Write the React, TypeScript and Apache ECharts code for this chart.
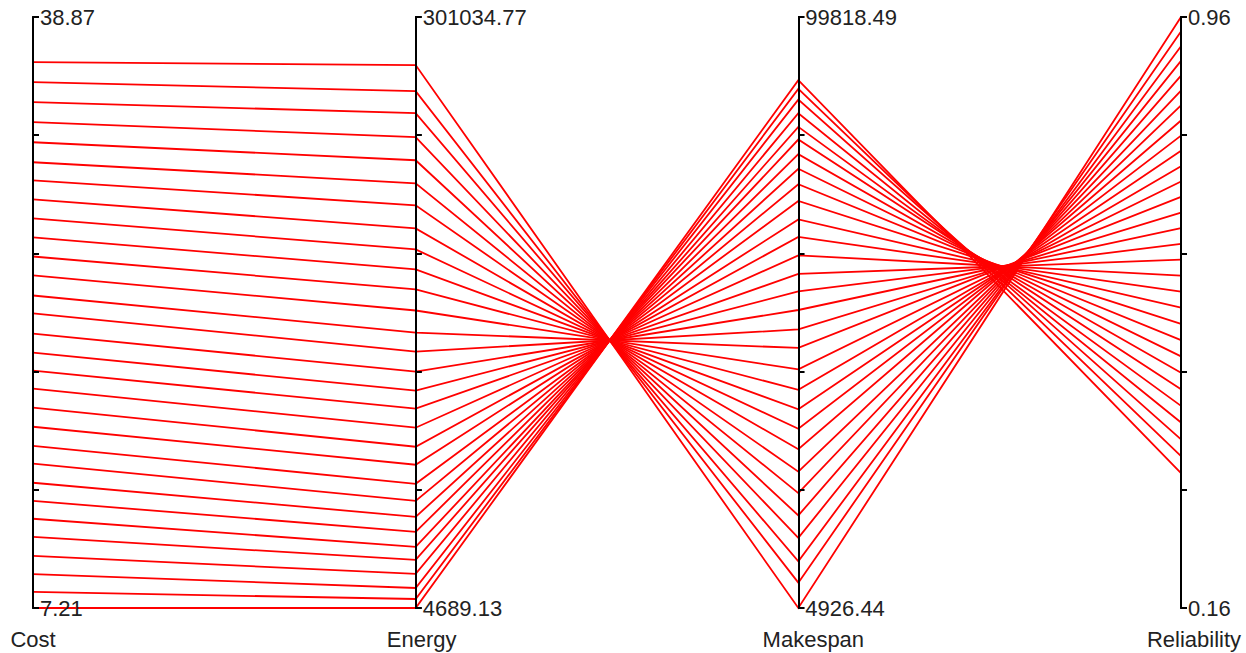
import React, { useEffect, useRef } from "react";
import * as echarts from "echarts";

const dimensions = ["Cost", "Energy", "Makespan", "Reliability"];
const axisMin = [7.21, 4689.13, 4926.44, 0.16];
const axisMax = [38.87, 301034.77, 99818.49, 0.96];
const minLabels = ["7.21", "4689.13", "4926.44", "0.16"];
const maxLabels = ["38.87", "301034.77", "99818.49", "0.96"];
const nameShift = [0, 12, 30, 26];

const cost = [
  36.45, 35.38, 34.31, 33.24, 32.16, 31.09, 30.12, 29.1, 28.08, 27.06,
  26.04, 25.03, 23.95, 22.99, 21.91, 20.89, 19.93, 18.96, 17.94, 16.92,
  15.9, 14.94, 13.92, 12.95, 11.99, 11.02, 10.0, 9.03, 8.07, 7.21,
];
const energy = [
  276925, 263866, 252815, 240761, 229208, 217656, 206606, 195053, 184505, 174460,
  164414, 153866, 142816, 133273, 123227, 113684, 104643, 95099, 85556, 76515,
  66972, 58433, 50396, 42862, 35328, 28798, 21767, 14735, 9210, 4689.13,
];
const makespan = [
  4926.44, 8995, 12437, 16184, 19787, 23374, 26816, 30418, 33699, 36819,
  39956, 43237, 46679, 49654, 52774, 55750, 58564, 61540, 64499, 67314,
  70289, 72959, 75452, 77800, 80148, 82175, 84362, 86549, 88270, 89686,
];
const reliability = [
  0.96, 0.9403, 0.9205, 0.9006, 0.8806, 0.8605, 0.8403, 0.8199, 0.7994, 0.7789,
  0.7581, 0.7373, 0.7164, 0.6953, 0.6742, 0.6529, 0.6315, 0.6099, 0.5883, 0.5666,
  0.5447, 0.5227, 0.5006, 0.4784, 0.4561, 0.4336, 0.411, 0.3883, 0.3656, 0.3426,
];

const FONT = "'Liberation Sans', Arial, sans-serif";

export default function App() {
  const ref = useRef<HTMLDivElement>(null);

  useEffect(() => {
    if (!ref.current) return;
    const chart = echarts.init(ref.current, undefined, { renderer: "svg" });

    const rows = cost.map((c, i) => [c, energy[i], makespan[i], reliability[i]]);
    const tickVals = (i: number) =>
      [0, 1, 2, 3, 4, 5].map((k) => axisMin[i] + ((axisMax[i] - axisMin[i]) * k) / 5);

    const layout = { left: 33, right: 65, top: 17, bottom: 45, layout: "horizontal" };

    const mainAxes = dimensions.map((name, i) => ({
      dim: i,
      parallelIndex: 0,
      name,
      nameLocation: "start",
      nameGap: 20,
      nameTextStyle: {
        fontFamily: FONT,
        fontSize: 22,
        color: "#222",
        padding: [0, 0, 0, nameShift[i]],
      },
      type: "value",
      min: axisMin[i],
      max: axisMax[i],
      axisLine: { show: true, lineStyle: { color: "#000", width: 2 } },
      axisTick: {
        show: true,
        inside: false,
        length: 6,
        lineStyle: { color: "#000", width: 2 },
        customValues: tickVals(i),
      },
      splitLine: { show: false },
      axisLabel: {
        show: true,
        inside: true,
        margin: 7,
        fontFamily: FONT,
        fontSize: 22,
        color: "#222",
        padding: [4, 0, 0, 0],
        customValues: [axisMin[i], axisMax[i]],
        formatter: (v: number) =>
          Math.abs(v - axisMax[i]) < Math.abs(v - axisMin[i]) ? maxLabels[i] : minLabels[i],
      },
    }));

    // second, label-less copy of each axis: draws the right half of every tick cross
    const tickAxes = dimensions.map((_, i) => ({
      dim: i,
      parallelIndex: 1,
      name: "",
      type: "value",
      min: axisMin[i],
      max: axisMax[i],
      axisLine: { show: true, lineStyle: { color: "#000", width: 2 } },
      axisTick: {
        show: true,
        inside: true,
        length: 6,
        lineStyle: { color: "#000", width: 2 },
        customValues: tickVals(i),
      },
      splitLine: { show: false },
      axisLabel: {
        show: false,
        customValues: [axisMin[i]],
        color: "rgba(0,0,0,0)",
        formatter: () => "",
      },
    }));

    chart.setOption({
      animation: false,
      backgroundColor: "#fff",
      parallel: [
        { ...layout, parallelAxisDefault: { silent: true } },
        { ...layout, parallelAxisDefault: { silent: true } },
      ],
      parallelAxis: [...mainAxes, ...tickAxes],
      series: [
        {
          type: "parallel",
          parallelIndex: 1,
          silent: true,
          lineStyle: { color: "#ff0000", width: 0, opacity: 0 },
          emphasis: { disabled: true },
          data: rows,
          z: 1,
        },
        {
          type: "parallel",
          parallelIndex: 0,
          silent: true,
          lineStyle: { color: "#ff0000", width: 1.8, opacity: 1 },
          emphasis: { disabled: true },
          data: rows,
          z: 2,
        },
      ],
    });

    return () => chart.dispose();
  }, []);

  return (
    <div
      ref={ref}
      style={{ position: "absolute", left: 0, top: 0, width: 1246, height: 653, background: "#fff" }}
    />
  );
}
